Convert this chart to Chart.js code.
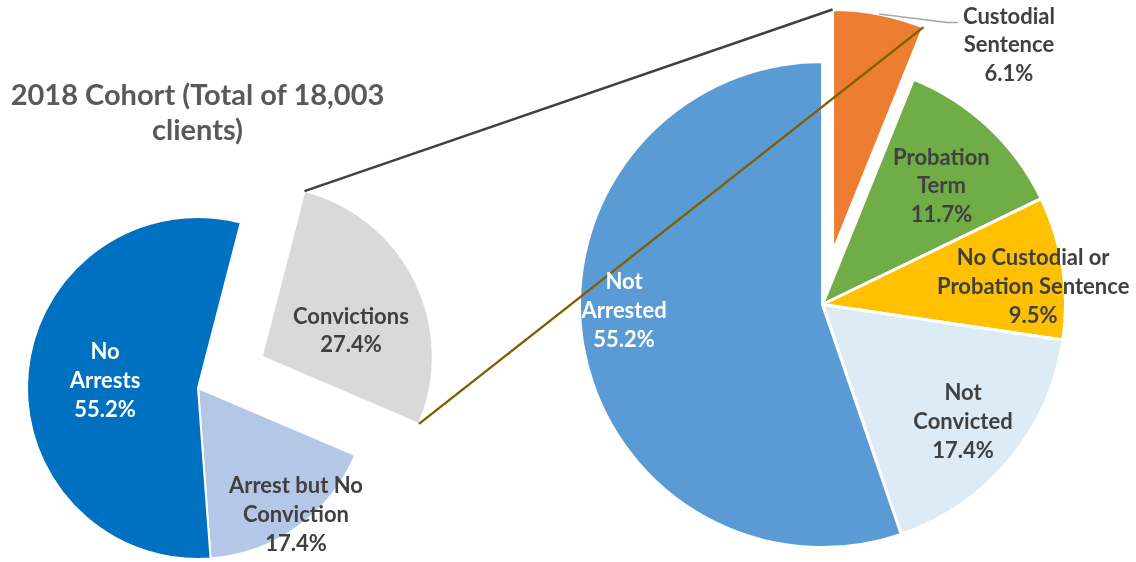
<!DOCTYPE html>
<html>
<head>
<meta charset="utf-8">
<script src="https://cdn.jsdelivr.net/npm/chart.js@4.4.0/dist/chart.umd.min.js"></script>
<style>
  html, body { margin: 0; padding: 0; background: #fff; }
  #wrap { position: relative; width: 1136px; height: 562px; overflow: hidden; }
  #wrap canvas { position: absolute; left: 0; top: 0; }
  #title {
    position: absolute; left: 0; top: 76px; width: 395px;
    text-align: center; font: bold 29px Lato, sans-serif; line-height: 35px; color: #595959;
  }
</style>
</head>
<body>
<div id="wrap">
  <canvas id="cohortPie" width="1136" height="562"></canvas>
  <canvas id="outcomePie" width="1136" height="562"></canvas>
  <div id="title">2018 Cohort (Total of 18,003<br>clients)</div>
</div>

<script>
// ---------- DATA ----------
// whole cohort
const cohortLabels = ['Convictions', 'Arrest but No Conviction', 'No Arrests'];
const cohortLines = [['Convictions'], ['Arrest but No', 'Conviction'], ['No', 'Arrests']];
const cohortPct = [27.4, 17.4, 55.2];

// breakdown of outcomes
const outcomeLabels = ['Custodial Sentence', 'Probation Term', 'No Custodial or Probation Sentence', 'Not Convicted', 'Not Arrested'];
const outcomeLines = [['Custodial', 'Sentence'], ['Probation', 'Term'], ['No Custodial or', 'Probation Sentence'], ['Not', 'Convicted'], ['Not', 'Arrested']];
const outcomePct = [6.1, 11.7, 9.5, 17.4, 55.2];

// ---------- STYLE ----------
const cohortColors = ['#D9D9D9', '#B4C7E7', '#0070C0'];
const cohortText = ['#404040', '#404040', '#ffffff'];
const outcomeColors = ['#ED7D31', '#70AD47', '#FFC000', '#DDEBF7', '#5B9BD5'];
const outcomeText = ['#404040', '#404040', '#404040', '#404040', '#ffffff'];

// pulled-out distance per slice (px)
const cohortExplode = [71, 0, 0];
const outcomeExplode = [53, 0, 0, 0, 0];

// label placement: [fraction of radius, degrees turned off the slice middle]
const cohortLabelPos = [[0.543, 10.1], [0.938, -2.1], [0.545, -0.8]];
const outcomeLabelPos = [[1.12, 29.4], [0.69, 2.1], [0.87, 4.0], [0.754, 0.2], [0.817, 7.6]];

const LABEL_FONT = 'bold 22px Lato, sans-serif';
const LINE_H = 28.7;

// ---------- HELPERS ----------
function explodeSlices(chart, dist) {
  const area = chart.chartArea;
  const cx = (area.left + area.right) / 2;
  const cy = (area.top + area.bottom) / 2;
  chart.getDatasetMeta(0).data.forEach((arc, i) => {
    const d = dist[i] || 0;
    const mid = (arc.startAngle + arc.endAngle) / 2;
    arc.x = cx + Math.cos(mid) * d;
    arc.y = cy + Math.sin(mid) * d;
  });
}

function arcPoint(arc, angle, r) {
  return { x: arc.x + Math.cos(angle) * r, y: arc.y + Math.sin(angle) * r };
}

function labelSpot(arc, pos) {
  const mid = (arc.startAngle + arc.endAngle) / 2 + pos[1] * Math.PI / 180;
  return arcPoint(arc, mid, arc.outerRadius * pos[0]);
}

function drawSliceLabels(chart, lines, pct, pos, colors) {
  const ctx = chart.ctx;
  ctx.save();
  ctx.font = LABEL_FONT;
  ctx.textAlign = 'center';
  ctx.textBaseline = 'middle';
  chart.getDatasetMeta(0).data.forEach((arc, i) => {
    const p = labelSpot(arc, pos[i]);
    const text = lines[i].concat(pct[i].toFixed(1) + '%');
    const top = p.y - (text.length - 1) * LINE_H / 2;
    ctx.fillStyle = colors[i];
    text.forEach((t, k) => ctx.fillText(t, p.x, top + k * LINE_H));
  });
  ctx.restore();
}

function line(ctx, a, b, color, width) {
  ctx.beginPath();
  ctx.moveTo(a.x, a.y);
  ctx.lineTo(b.x, b.y);
  ctx.strokeStyle = color;
  ctx.lineWidth = width;
  ctx.stroke();
}

function pieOptions(padding) {
  return {
    responsive: false,
    animation: false,
    events: [],
    rotation: 0,
    layout: { padding },
    plugins: { legend: { display: false }, tooltip: { enabled: false } }
  };
}

// ---------- CHARTS ----------
const cohortOpts = pieOptions({ left: 26, top: 216, right: 766, bottom: 2 });
cohortOpts.rotation = 14.5;

const cohortChart = new Chart(document.getElementById('cohortPie'), {
  type: 'pie',
  data: {
    labels: cohortLabels,
    datasets: [{
      data: cohortPct,
      backgroundColor: cohortColors,
      borderColor: '#ffffff',
      borderWidth: 2,
      hoverOffset: 0
    }]
  },
  options: cohortOpts,
  plugins: [{
    id: 'cohortDecor',
    beforeDatasetsDraw(chart) { explodeSlices(chart, cohortExplode); },
    afterDatasetsDraw(chart) { drawSliceLabels(chart, cohortLines, cohortPct, cohortLabelPos, cohortText); }
  }]
});

const outcomeChart = new Chart(document.getElementById('outcomePie'), {
  type: 'pie',
  data: {
    labels: outcomeLabels,
    datasets: [{
      data: outcomePct,
      backgroundColor: outcomeColors,
      borderColor: '#ffffff',
      borderWidth: 3,
      hoverOffset: 0
    }]
  },
  options: pieOptions({ left: 578, top: 60, right: 69, bottom: 13 }),
  plugins: [{
    id: 'outcomeDecor',
    beforeDatasetsDraw(chart) { explodeSlices(chart, outcomeExplode); },
    afterDatasetsDraw(chart) {
      const ctx = chart.ctx;
      explodeSlices(cohortChart, cohortExplode);
      const conv = cohortChart.getDatasetMeta(0).data[0];
      const cust = chart.getDatasetMeta(0).data[0];

      // connectors from the convictions slice to the outcome pie
      ctx.save();
      line(ctx, arcPoint(conv, conv.startAngle, conv.outerRadius), arcPoint(cust, cust.startAngle, cust.outerRadius), '#404040', 2.5);
      line(ctx, arcPoint(conv, conv.endAngle, conv.outerRadius), arcPoint(cust, cust.endAngle, cust.outerRadius), '#7F6000', 2.5);

      // leader line for the outside label
      ctx.font = LABEL_FONT;
      const p = labelSpot(cust, outcomeLabelPos[0]);
      const firstY = p.y - (outcomeLines[0].length) * LINE_H / 2;
      const left = p.x - ctx.measureText(outcomeLines[0][0]).width / 2;
      const from = arcPoint(cust, (cust.startAngle + cust.endAngle) / 2, cust.outerRadius);
      ctx.beginPath();
      ctx.moveTo(from.x, from.y);
      ctx.lineTo(left - 16, firstY + 6);
      ctx.lineTo(left - 5, firstY + 6);
      ctx.strokeStyle = '#A6A6A6';
      ctx.lineWidth = 1.5;
      ctx.stroke();
      ctx.restore();

      drawSliceLabels(chart, outcomeLines, outcomePct, outcomeLabelPos, outcomeText);
    }
  }]
});
</script>
</body>
</html>
